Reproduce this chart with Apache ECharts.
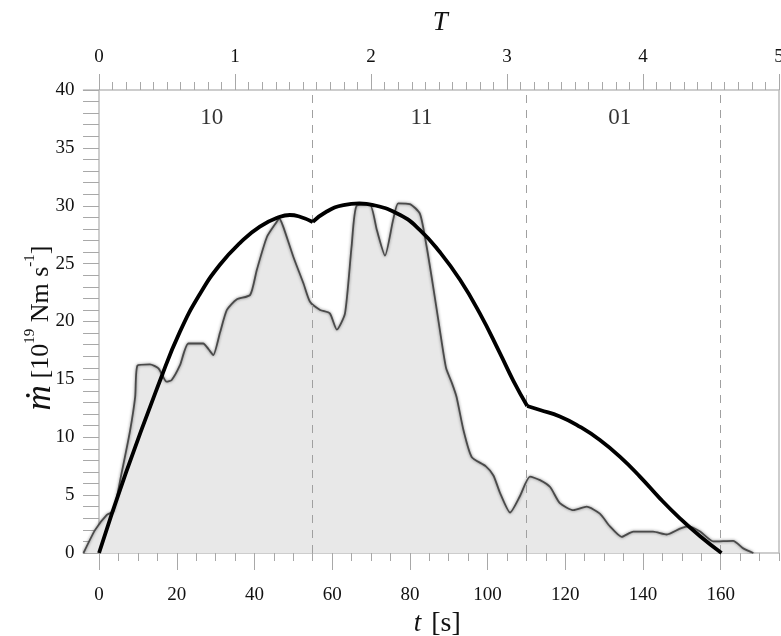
<!DOCTYPE html>
<html>
<head>
<meta charset="utf-8">
<script src="https://cdn.jsdelivr.net/npm/echarts@6.0.0/dist/echarts.min.js"></script>
<style>
  html, body { margin: 0; padding: 0; background: #fff; }
  #chart { width: 781px; height: 636px; }
</style>
</head>
<body>
<div id="chart"></div>
<script>
// observed flux (grey filled profile), [t, value]
const obsData = [
  [-4, 0], [-1, 2.0], [2, 3.3], [3.7, 3.6], [5.8, 6.9], [8, 10.6], [9.3, 13.5], [9.9, 16.2],
  [13.1, 16.3], [15.3, 15.95], [17.4, 14.8], [18.7, 14.95], [20.8, 16.2], [23, 18.1],
  [26.8, 18.1], [28.2, 17.6], [29.4, 17.1], [31.1, 19.0], [32.9, 21.0], [35.4, 21.9],
  [38.9, 22.3], [40.6, 24.45], [43.2, 27.3], [45.7, 28.6], [46.4, 28.9], [47.4, 28.2],
  [50, 25.6], [52.6, 23.3], [54.3, 21.7], [56.9, 21.0], [59.4, 20.7], [61.2, 19.3],
  [63.3, 20.7], [65, 26.5], [66.3, 30.0], [69.7, 30.1], [71.5, 27.9], [73.6, 25.7],
  [75.7, 28.8], [77, 30.2], [80, 30.15], [82.6, 29.3], [84.3, 26.5], [86, 23.0],
  [87.7, 19.3], [89.3, 16.0], [90.8, 14.7], [92, 13.5], [93.8, 10.6], [95.9, 8.3],
  [99.5, 7.5], [101.5, 6.7], [103.2, 5.2], [105.8, 3.5], [108.3, 4.9], [110.9, 6.6],
  [113.5, 6.3], [116.1, 5.7], [118.6, 4.3], [122.1, 3.7], [125.5, 4.0], [128.9, 3.4],
  [131.5, 2.3], [134.5, 1.4], [137.5, 1.85], [142.6, 1.85], [146.1, 1.6], [149.5, 2.1],
  [151.7, 2.3], [154.7, 1.85], [158.1, 1.0], [163.2, 1.05], [165.8, 0.4], [168.4, 0]
];

// model curve, three arcs
const modelA = [
  [0, 0], [7, 7.0], [15.7, 14.9], [20.8, 19.1], [26, 22.4], [31.1, 24.9], [36.3, 26.8],
  [41.4, 28.2], [46.6, 29.05], [49.1, 29.2], [51.7, 29.05], [55, 28.6]
];
const modelB = [
  [55, 28.6], [58.6, 29.5], [62.9, 30.06], [67, 30.2], [70.6, 30.06], [77.5, 29.2],
  [82.6, 27.9], [87.7, 26.0], [92.9, 23.6], [98, 20.7], [103.2, 17.25], [106.6, 14.9],
  [110.2, 12.7]
];
const modelC = [
  [110.2, 12.7], [113.5, 12.35], [118.6, 11.8], [123.8, 10.9], [128.9, 9.76],
  [134.1, 8.3], [139.2, 6.6], [144.4, 4.7], [149.5, 3.0], [154.7, 1.45], [160.2, 0]
];

// phase boundaries and labels
const phaseLines = [55, 110, 160];
const phaseLabels = [[29, 37.6, '10'], [83, 37.6, '11'], [134, 37.6, '01']];

// tick values
const tMajor = [0, 20, 40, 60, 80, 100, 120, 140, 160];
const tMinor = [];
for (let v = 0; v <= 175; v += 5) tMinor.push(v);
const TMajor = [0, 1, 2, 3, 4, 5];
const TMinor = [];
for (let i = 0; i <= 50; i++) TMinor.push(i / 10);
const yMajor = [0, 5, 10, 15, 20, 25, 30, 35, 40];
const yMinor = [];
for (let v = 0; v <= 40; v++) yMinor.push(v);

const serif = 'Liberation Serif, DejaVu Serif, serif';
const ink = '#111';
const axisGrey = '#bdbdbd';
const tickGrey = '#a8a8a8';

const chart = echarts.init(document.getElementById('chart'));

const tMin = -4, tMax = 175;

const option = {
  animation: false,
  grid: {
    left: 83.5, right: 2, top: 90, bottom: 83,
    containLabel: false, outerBoundsMode: 'none'
  },
  // y axis title, rotated
  graphic: [
    {
      type: 'text', x: 41, y: 328, rotation: Math.PI / 2,
      style: {
        text: '{m|ṁ}  {b|[10}{s|19}{b| Nm s}{s|-1}{b|]}',
        align: 'center', verticalAlign: 'middle',
        rich: {
          m: { fontFamily: serif, fontStyle: 'italic', fontSize: 35, fill: ink, lineHeight: 36 },
          b: { fontFamily: serif, fontSize: 26, fill: ink, lineHeight: 36 },
          s: { fontFamily: serif, fontSize: 15, fill: ink, verticalAlign: 'top', lineHeight: 36, padding: [0, 0, 12, 0] }
        }
      }
    }
  ],
  xAxis: [
    {
      type: 'value', position: 'bottom', min: tMin, max: tMax,
      axisLine: { onZero: false, lineStyle: { color: axisGrey, width: 1.5 } },
      axisTick: { customValues: tMinor, length: 8, lineStyle: { color: tickGrey } },
      axisLabel: { show: false },
      splitLine: { show: false }
    },
    {
      type: 'value', position: 'bottom', min: tMin, max: tMax,
      axisLine: { show: false, onZero: false },
      axisTick: { customValues: tMajor, length: 17, lineStyle: { color: tickGrey } },
      axisLabel: {
        customValues: tMajor, margin: 33, color: ink,
        fontFamily: serif, fontSize: 19
      },
      splitLine: { show: false },
      name: '{i|t}   {n|[s]}',
      nameLocation: 'middle', nameGap: 50,
      nameTextStyle: {
        padding: [0, 0, 0, 12],
        rich: {
          i: { fontFamily: serif, fontStyle: 'italic', fontSize: 27, color: ink },
          n: { fontFamily: serif, fontSize: 28, color: ink }
        }
      }
    },
    {
      type: 'value', position: 'top', min: tMin / 35, max: tMax / 35,
      axisLine: { onZero: false, lineStyle: { color: axisGrey, width: 1.5 } },
      axisTick: { customValues: TMinor, length: 8, lineStyle: { color: tickGrey } },
      axisLabel: { show: false },
      splitLine: { show: false }
    },
    {
      type: 'value', position: 'top', min: tMin / 35, max: tMax / 35,
      axisLine: { show: false, onZero: false },
      axisTick: { customValues: TMajor, length: 16, lineStyle: { color: tickGrey } },
      axisLabel: {
        customValues: TMajor, margin: 23, color: ink,
        fontFamily: serif, fontSize: 19
      },
      splitLine: { show: false },
      name: 'T', nameLocation: 'middle', nameGap: 54,
      nameTextStyle: {
        fontFamily: serif, fontStyle: 'italic', fontSize: 27, color: ink,
        padding: [0, 0, 0, 18]
      }
    }
  ],
  yAxis: [
    {
      type: 'value', min: 0, max: 40,
      axisLine: { show: true, onZero: true, onZeroAxisIndex: 0, lineStyle: { color: axisGrey, width: 1.5 } },
      axisTick: { customValues: yMinor, length: 16, lineStyle: { color: tickGrey } },
      axisLabel: {
        customValues: yMajor, margin: 9, color: ink,
        fontFamily: serif, fontSize: 19
      },
      splitLine: { show: false }
    },
    {
      type: 'value', position: 'right', min: 0, max: 40,
      axisLine: { show: true, onZero: false, lineStyle: { color: axisGrey, width: 1.5 } },
      axisTick: { show: false },
      axisLabel: { show: false },
      splitLine: { show: false }
    }
  ],
  series: [
    {
      name: 'observed', type: 'line', data: obsData,
      showSymbol: false, smooth: 0.2, z: 2,
      lineStyle: {
        color: '#4a4a4a', width: 1.8,
        shadowColor: 'rgba(0,0,0,0.5)', shadowBlur: 3
      },
      areaStyle: { color: '#e8e8e8', opacity: 1 },
      markLine: {
        silent: true, symbol: ['none', 'none'], label: { show: false },
        lineStyle: { color: '#a0a0a0', width: 1, type: [8, 7] },
        data: phaseLines.map(v => ({ xAxis: v }))
      }
    },
    {
      name: 'modelA', type: 'line', data: modelA, showSymbol: false, smooth: true, z: 5,
      lineStyle: { color: '#000', width: 3.8 }
    },
    {
      name: 'modelB', type: 'line', data: modelB, showSymbol: false, smooth: true, z: 5,
      lineStyle: { color: '#000', width: 3.8 }
    },
    {
      name: 'modelC', type: 'line', data: modelC, showSymbol: false, smooth: true, z: 5,
      lineStyle: { color: '#000', width: 3.8 }
    },
    {
      name: 'phases', type: 'scatter', symbolSize: 0, z: 6,
      data: phaseLabels.map(p => ({ value: [p[0], p[1]], name: p[2] })),
      label: {
        show: true, position: 'inside', formatter: '{b}',
        fontFamily: serif, fontSize: 23, color: '#000'
      }
    }
  ]
};

chart.setOption(option);
</script>
</body>
</html>
